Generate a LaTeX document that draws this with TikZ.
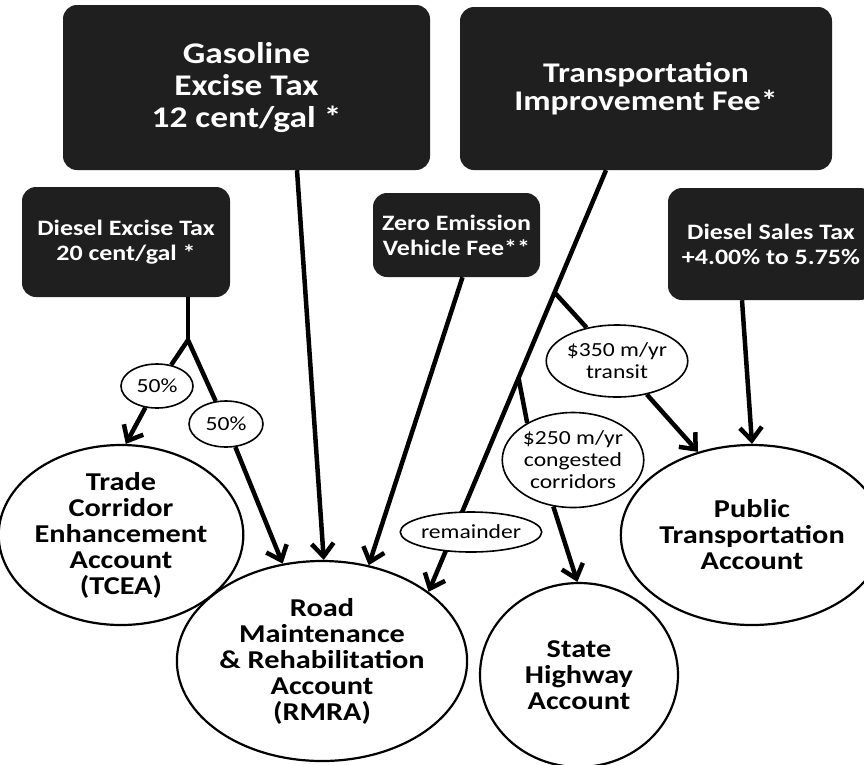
\documentclass[tikz,border=0pt]{standalone}
\usepackage{fontspec}
\setmainfont{Carlito}[FakeStretch=1.18]
\usetikzlibrary{arrows.meta,shapes.geometric,calc}
\definecolor{boxfill}{gray}{0.12}
\begin{document}
\begin{tikzpicture}[x=1pt,y=-1pt,
  srcbox/.style={rectangle, rounded corners=14pt, fill=boxfill, text=white, align=center, inner sep=0pt},
  acct/.style={ellipse, draw, line width=2.2pt, fill=white, align=center, inner sep=0pt,
    font=\bfseries\fontsize{25.7}{26}\selectfont},
  lbl/.style={ellipse, draw, line width=1.6pt, fill=white, align=center, inner sep=0pt,
    font=\fontsize{20}{22}\selectfont},
  conn/.style={line width=4.5pt},
  arr/.style={conn, -{Straight Barb[length=13pt,width=22pt]}}]
\useasboundingbox (0,0) rectangle (864,764);
\fill[white] (0,0) rectangle (864,764);

% source boxes
\node[srcbox, minimum width=367pt, minimum height=165pt, font=\bfseries\fontsize{30}{32}\selectfont]
  (gas) at (246.5,87.5) {Gasoline\\Excise Tax\\12 cent/gal *};
\node[srcbox, minimum width=372pt, minimum height=163pt, font=\bfseries\fontsize{28.5}{28}\selectfont]
  (tif) at (646,88.5) {Transportation\\Improvement Fee*};
\node[srcbox, minimum width=208pt, minimum height=110pt, font=\bfseries\fontsize{22}{25}\selectfont]
  (dex) at (126,242) {Diesel Excise Tax\\20 cent/gal *};
\node[srcbox, minimum width=167pt, minimum height=84pt, font=\bfseries\fontsize{22}{25}\selectfont]
  (zev) at (456.5,235) {Zero Emission\\Vehicle Fee**};
\node[srcbox, minimum width=206pt, minimum height=112pt, font=\bfseries\fontsize{22}{25}\selectfont]
  (dst) at (771,244) {Diesel Sales Tax\\+4.00\% to 5.75\%};

% accounts
\node[acct, minimum width=212pt, minimum height=180pt] (tcea) at (121,535)
  {Trade\\Corridor\\Enhancement\\Account\\(TCEA)};
\node[acct, minimum width=236pt, minimum height=200pt] (rmra) at (322,661)
  {Road\\Maintenance\\\& Rehabilitation\\Account\\(RMRA)};
\node[acct, minimum width=198pt, minimum height=184pt] (sha) at (579,675)
  {State\\Highway\\Account};
\node[acct, minimum width=208pt, minimum height=180pt] (pta) at (752,535)
  {Public\\Transportation\\Account};

% split labels
\node[lbl, minimum width=72pt, minimum height=44pt] (p1) at (157,386) {50\%};
\node[lbl, minimum width=74pt, minimum height=46pt] (p2) at (226,424) {50\%};
\node[lbl, minimum width=121pt, minimum height=72pt] (t350) at (617,361) {\$350 m/yr\\transit};
\node[lbl, minimum width=134pt, minimum height=95pt] (t250) at (573,460) {\$250 m/yr\\congested\\corridors};

% connectors
\coordinate (dj) at (188,340);
\draw[conn] (dex.south -| dj) -- (dj);
\draw[conn] (dj) -- (p1);
\draw[conn] (dj) -- (p2);
\draw[arr] (p1) -- (tcea.87);
\draw[arr] (p2) -- (rmra.112);
\coordinate (gasout) at ([xshift=50.5pt]gas.south);
\draw[arr] (gasout) -- (rmra.89);
\draw[arr] ([xshift=6pt]zev.south) -- (rmra.64);
\coordinate (tifout) at ([xshift=-40pt]tif.south);
\draw[arr] (tifout) -- (rmra.33);
\coordinate (tj1) at ($(tifout)!0.29!(rmra.33)$);
\coordinate (tj2) at ($(tifout)!0.493!(rmra.33)$);
\draw[conn] (tj1) -- (t350);
\draw[arr] (t350) -- (pta.123);
\draw[conn] (tj2) -- (t250.141);
\draw[arr] (t250.247) -- (sha.91);
\draw[arr] ([xshift=-29pt]dst.south) -- (pta.90);

\node[lbl, minimum width=118pt, minimum height=40pt] (rem) at (471,532) {remainder};
\end{tikzpicture}
\end{document}
